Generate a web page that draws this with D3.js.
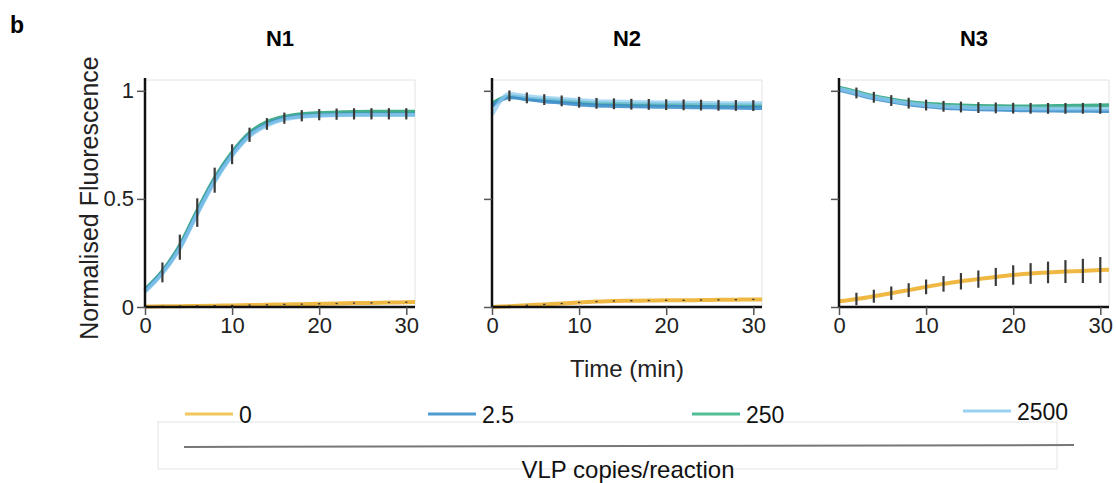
<!DOCTYPE html>
<html>
<head>
<meta charset="utf-8">
<script src="https://cdn.jsdelivr.net/npm/d3@7"></script>
<style>
  body { margin: 0; background: #fff; }
  svg { font-family: "Liberation Sans", Arial, sans-serif; }
</style>
</head>
<body>
<svg width="1116" height="483"></svg>
<script>
// sampling times (min)
var times = [0, 2, 4, 6, 8, 10, 12, 14, 16, 18, 20, 22, 24, 26, 28, 30, 31];

var panelTitles = ["N1", "N2", "N3"];
var seriesNames = ["0", "2.5", "250", "2500"];
var seriesColors = ["#EDB02F", "#3F8FCB", "#2FA57E", "#8BCBEF"];
var legendColors = ["#F2C75E", "#4F9CD2", "#52BE96", "#9AD2F2"];

// N1
var n1_0    = [0.002, 0.003, 0.004, 0.005, 0.006, 0.007, 0.009, 0.010, 0.012, 0.013, 0.015, 0.016, 0.018, 0.019, 0.021, 0.022, 0.023];
var n1_2p5  = [0.075, 0.160, 0.275, 0.435, 0.585, 0.705, 0.795, 0.845, 0.872, 0.882, 0.887, 0.889, 0.890, 0.890, 0.890, 0.890, 0.890];
var n1_250  = [0.080, 0.165, 0.285, 0.445, 0.595, 0.715, 0.805, 0.855, 0.880, 0.892, 0.897, 0.900, 0.902, 0.903, 0.903, 0.903, 0.903];
var n1_2500 = [0.070, 0.155, 0.270, 0.430, 0.580, 0.700, 0.790, 0.840, 0.868, 0.880, 0.885, 0.887, 0.888, 0.888, 0.888, 0.888, 0.888];
var n1_err   = [null, 0.046, 0.058, 0.066, 0.058, 0.046, 0.033, 0.027, 0.026, 0.026, 0.026, 0.026, 0.026, 0.026, 0.026, 0.026, null];
var n1_0_err = [null, 0.003, 0.003, 0.003, 0.003, 0.003, 0.003, 0.003, 0.003, 0.003, 0.003, 0.003, 0.003, 0.003, 0.003, 0.003, null];

// N2
var n2_0    = [0.000, 0.004, 0.008, 0.012, 0.016, 0.021, 0.025, 0.028, 0.029, 0.030, 0.031, 0.031, 0.032, 0.033, 0.034, 0.035, 0.035];
var n2_2p5  = [0.930, 0.970, 0.962, 0.952, 0.945, 0.937, 0.932, 0.930, 0.928, 0.927, 0.926, 0.925, 0.924, 0.923, 0.922, 0.921, 0.921];
var n2_250  = [0.940, 0.975, 0.965, 0.958, 0.953, 0.947, 0.942, 0.940, 0.938, 0.937, 0.936, 0.935, 0.934, 0.933, 0.933, 0.932, 0.932];
var n2_2500 = [0.890, 0.985, 0.975, 0.968, 0.962, 0.957, 0.952, 0.950, 0.948, 0.947, 0.946, 0.945, 0.944, 0.943, 0.942, 0.942, 0.942];
var n2_err   = [null, 0.025, 0.025, 0.025, 0.025, 0.025, 0.025, 0.025, 0.025, 0.025, 0.025, 0.025, 0.025, 0.025, 0.025, 0.025, null];
var n2_0_err = [null, 0.003, 0.003, 0.003, 0.003, 0.003, 0.003, 0.003, 0.003, 0.003, 0.003, 0.003, 0.003, 0.003, 0.003, 0.003, null];

// N3
var n3_0    = [0.026, 0.037, 0.050, 0.064, 0.078, 0.093, 0.107, 0.119, 0.129, 0.139, 0.148, 0.155, 0.160, 0.164, 0.167, 0.171, 0.172];
var n3_2p5  = [1.005, 0.985, 0.965, 0.950, 0.938, 0.928, 0.922, 0.918, 0.915, 0.913, 0.911, 0.910, 0.909, 0.908, 0.908, 0.907, 0.907];
var n3_250  = [1.015, 0.995, 0.975, 0.960, 0.948, 0.940, 0.935, 0.932, 0.930, 0.929, 0.928, 0.928, 0.929, 0.930, 0.931, 0.932, 0.933];
var n3_2500 = [1.010, 0.990, 0.970, 0.955, 0.943, 0.934, 0.928, 0.925, 0.922, 0.921, 0.920, 0.919, 0.918, 0.918, 0.918, 0.917, 0.917];
var n3_err   = [null, 0.025, 0.025, 0.025, 0.025, 0.025, 0.025, 0.025, 0.025, 0.025, 0.025, 0.025, 0.025, 0.025, 0.025, 0.025, null];
var n3_0_err = [null, 0.029, 0.030, 0.031, 0.032, 0.034, 0.036, 0.038, 0.040, 0.042, 0.045, 0.048, 0.050, 0.053, 0.056, 0.060, null];

var xTicks = [0, 10, 20, 30];
var yTicks = [0, 0.5, 1];

var panels = [
  { title: panelTitles[0], series: [n1_0, n1_2p5, n1_250, n1_2500], err: n1_err, err0: n1_0_err },
  { title: panelTitles[1], series: [n2_0, n2_2p5, n2_250, n2_2500], err: n2_err, err0: n2_0_err },
  { title: panelTitles[2], series: [n3_0, n3_2p5, n3_250, n3_2500], err: n3_err, err0: n3_0_err }
];

var svg = d3.select("svg");
var panelLeft = [145, 492, 839],
    panelW = 270,
    plotTop = 80,
    plotBottom = 307;

var y = d3.scaleLinear().domain([0, 1.05]).range([plotBottom, plotTop]);

svg.append("text")
  .attr("x", 10).attr("y", 33)
  .attr("font-size", 23).attr("font-weight", "bold")
  .text("b");

// draw order: green, dark blue, light blue, then orange
var drawOrder = [2, 1, 3, 0];

panels.forEach(function(p, i) {
  var x = d3.scaleLinear().domain([0, 31]).range([panelLeft[i], panelLeft[i] + panelW]);
  var g = svg.append("g");

  // light frame
  g.append("path")
    .attr("d", "M" + x(0) + "," + plotTop + "H" + x(31) + "V" + plotBottom)
    .attr("fill", "none").attr("stroke", "#e2e2e2").attr("stroke-width", 1);

  g.append("text")
    .attr("x", (x(0) + x(31)) / 2).attr("y", 46)
    .attr("text-anchor", "middle")
    .attr("font-size", 22).attr("font-weight", "bold")
    .text(p.title);

  var line = d3.line()
    .x(function(d, k) { return x(times[k]); })
    .y(function(d) { return y(d); })
    .curve(d3.curveMonotoneX);

  drawOrder.forEach(function(s) {
    g.append("path")
      .datum(p.series[s])
      .attr("d", line)
      .attr("fill", "none")
      .attr("stroke", seriesColors[s])
      .attr("stroke-width", 4)
      .attr("stroke-opacity", s === 3 ? 0.75 : 0.9);
  });

  // error bars: group of non-zero series, and the zero series
  var groupMean = times.map(function(t, k) {
    return d3.mean([p.series[1][k], p.series[2][k], p.series[3][k]]);
  });
  [[groupMean, p.err], [p.series[0], p.err0]].forEach(function(pair) {
    var centre = pair[0], err = pair[1];
    g.append("g").selectAll("line")
      .data(times.map(function(t, k) { return { t: t, v: centre[k], e: err[k] }; })
        .filter(function(d) { return d.e != null; }))
      .enter().append("line")
      .attr("x1", function(d) { return x(d.t); })
      .attr("x2", function(d) { return x(d.t); })
      .attr("y1", function(d) { return y(d.v - d.e); })
      .attr("y2", function(d) { return y(d.v + d.e); })
      .attr("stroke", "#3a3a3a")
      .attr("stroke-width", 2.2);
  });

  // axes
  var yAxis = d3.axisLeft(y).tickValues(yTicks).tickSize(8).tickPadding(3)
    .tickFormat(i === 0 ? d3.format("") : function() { return ""; });
  var ya = g.append("g").attr("transform", "translate(" + x(0) + ",0)").call(yAxis);
  ya.select(".domain").attr("d", "M0," + (plotTop - 2) + "V" + (plotBottom + 1))
    .attr("stroke", "#111").attr("stroke-width", 2.5);
  ya.selectAll(".tick line").attr("stroke", "#555").attr("stroke-width", 1.5);
  ya.selectAll(".tick text").attr("font-size", 22).attr("fill", "#222")
    .attr("font-family", "Liberation Sans, Arial, sans-serif");

  var xAxis = d3.axisBottom(x).tickValues(xTicks).tickSize(8).tickPadding(2);
  var xa = g.append("g").attr("transform", "translate(0," + plotBottom + ")").call(xAxis);
  xa.select(".domain").attr("d", "M" + x(0) + ",0H" + x(31))
    .attr("stroke", "#111").attr("stroke-width", 2.5);
  xa.selectAll(".tick line").attr("stroke", "#555").attr("stroke-width", 1.5);
  xa.selectAll(".tick text").attr("font-size", 22).attr("fill", "#222")
    .attr("font-family", "Liberation Sans, Arial, sans-serif");
});

svg.append("text")
  .attr("transform", "translate(98,198) rotate(-90)")
  .attr("text-anchor", "middle")
  .attr("font-size", 25).attr("fill", "#222")
  .text("Normalised Fluorescence");

svg.append("text")
  .attr("x", 627).attr("y", 377)
  .attr("text-anchor", "middle")
  .attr("font-size", 24).attr("fill", "#222")
  .text("Time (min)");

// legend
var legendX = [185, 428, 692, 963],
    legendY = [414, 414, 414, 411];

svg.append("rect")
  .attr("x", 158).attr("y", 422).attr("width", 899).attr("height", 47)
  .attr("fill", "none").attr("stroke", "#e4e4e4").attr("stroke-width", 1);

svg.append("line")
  .attr("x1", 184).attr("y1", 447).attr("x2", 1074).attr("y2", 445)
  .attr("stroke", "#777").attr("stroke-width", 2);

seriesNames.forEach(function(name, s) {
  svg.append("line")
    .attr("x1", legendX[s]).attr("x2", legendX[s] + 48)
    .attr("y1", legendY[s]).attr("y2", legendY[s])
    .attr("stroke", legendColors[s]).attr("stroke-width", 3);
  svg.append("text")
    .attr("x", legendX[s] + 54).attr("y", legendY[s] + 9)
    .attr("font-size", 23).attr("fill", "#111")
    .text(name);
});

svg.append("text")
  .attr("x", 628).attr("y", 478)
  .attr("text-anchor", "middle")
  .attr("font-size", 24).attr("fill", "#111")
  .text("VLP copies/reaction");
</script>
</body>
</html>
